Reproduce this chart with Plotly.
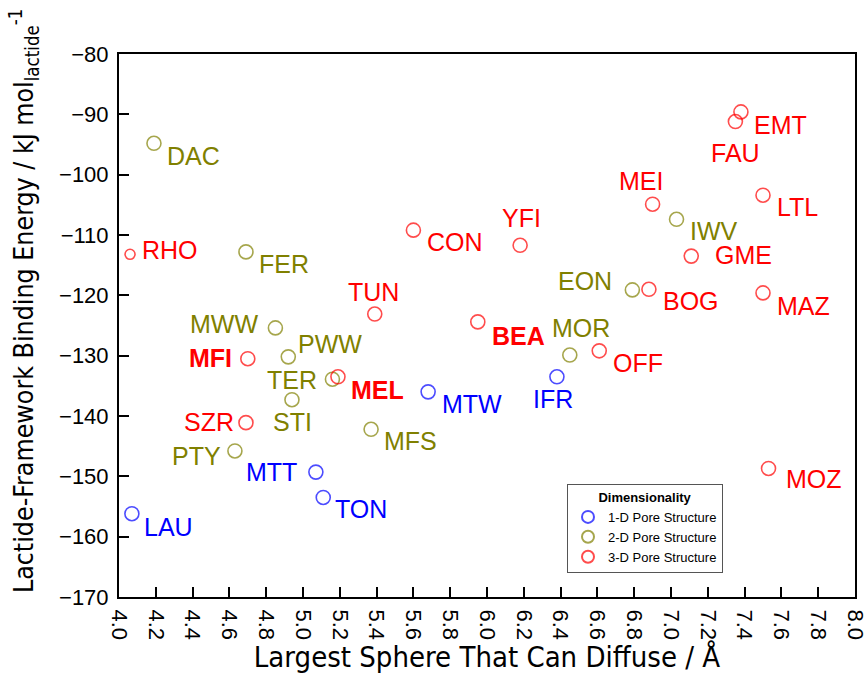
import plotly.graph_objects as go

# ---------------- data ----------------
names_1d = ["LAU", "MTT", "TON", "MTW", "IFR"]
x_1d = [4.07, 5.07, 5.11, 5.68, 6.38]
y_1d = [-156.2, -149.3, -153.5, -136.0, -133.5]

names_2d = ["DAC", "FER", "MWW", "PWW", "TER", "STI", "PTY", "MFS", "MOR", "EON", "IWV"]
x_2d = [4.19, 4.69, 4.85, 4.92, 5.16, 4.94, 4.63, 5.37, 6.45, 6.79, 7.03]
y_2d = [-94.8, -112.8, -125.4, -130.2, -133.9, -137.3, -145.8, -142.2, -129.9, -119.1, -107.4]

names_3d = ["RHO", "MFI", "MEL", "SZR", "TUN", "CON", "YFI", "BEA", "OFF", "BOG",
            "MEI", "GME", "FAU", "EMT", "LTL", "MAZ", "MOZ"]
x_3d = [4.06, 4.70, 5.19, 4.69, 5.39, 5.60, 6.18, 5.95, 6.61, 6.88,
        6.90, 7.11, 7.35, 7.38, 7.50, 7.50, 7.53]
y_3d = [-113.2, -130.5, -133.5, -141.1, -123.1, -109.2, -111.7, -124.4, -129.2, -119.0,
        -104.9, -113.5, -91.2, -89.6, -103.4, -119.6, -148.7]

x_ticks = [4.0, 4.2, 4.4, 4.6, 4.8, 5.0, 5.2, 5.4, 5.6, 5.8, 6.0,
           6.2, 6.4, 6.6, 6.8, 7.0, 7.2, 7.4, 7.6, 7.8, 8.0]
x_tick_labels = [f"{v:.1f}" for v in x_ticks]
y_ticks = [-170, -160, -150, -140, -130, -120, -110, -100, -90, -80]

bold_names = ["MFI", "MEL", "BEA"]
small_marker_names = ["RHO"]

series = [
    ("1-D Pore Structure", names_1d, x_1d, y_1d, "#0000ff"),
    ("2-D Pore Structure", names_2d, x_2d, y_2d, "#808000"),
    ("3-D Pore Structure", names_3d, x_3d, y_3d, "#ff0000"),
]

x_title = "Largest Sphere That Can Diffuse / Å"
y_title = "Lactide-Framework Binding Energy / kJ mol<sub>lactide</sub><sup>-1</sup>"

# label placement (anchor, dx px, dy px downward)
label_pos = {
    "LAU": ("left", 10, 13), "MTT": ("right", -17, 0), "TON": ("left", 10, 12),
    "MTW": ("left", 12, 12), "IFR": ("center", -4, 22),
    "DAC": ("left", 11, 13), "FER": ("left", 11, 12), "MWW": ("right", -15, -4),
    "PWW": ("left", 8, -13), "TER": ("right", -13, 1), "STI": ("center", 1, 22),
    "PTY": ("right", -12, 5), "MFS": ("left", 11, 12), "MOR": ("left", -20, -27),
    "EON": ("right", -18, -9), "IWV": ("left", 11, 12),
    "RHO": ("left", 10, -4), "MFI": ("right", -14, -1), "MEL": ("left", 11, 13),
    "SZR": ("right", -10, -1), "TUN": ("center", -1, -22), "CON": ("left", 12, 12),
    "YFI": ("center", 1, -27), "BEA": ("left", 12, 14), "OFF": ("left", 12, 12),
    "BOG": ("left", 12, 12), "MEI": ("center", -12, -23), "GME": ("left", 22, -1),
    "FAU": ("center", 0, 31), "EMT": ("left", 11, 13), "LTL": ("left", 12, 12),
    "MAZ": ("left", 12, 13), "MOZ": ("left", 15, 11),
}

LABEL_FONT = "Liberation Sans, Arial, sans-serif"
TITLE_FONT = "Liberation Sans Narrow, Arial Narrow, DejaVu Sans Condensed, Liberation Sans, sans-serif"

fig = go.Figure()
annotations = []
for leg_name, names, xs, ys, color in series:
    sizes = [10 if n in small_marker_names else 14 for n in names]
    fig.add_trace(go.Scatter(
        x=xs, y=ys, mode="markers", name=leg_name, text=names,
        marker=dict(symbol="circle-open", size=sizes, color=color,
                    line=dict(width=1.6, color=color)),
        hovertemplate="%{text}: (%{x}, %{y})<extra></extra>",
    ))
    for n, xv, yv in zip(names, xs, ys):
        anchor, dx, dy = label_pos[n]
        txt = f"<b>{n}</b>" if n in bold_names else n
        annotations.append(dict(
            x=xv, y=yv, xref="x", yref="y", text=txt, showarrow=False,
            xanchor=anchor, yanchor="middle", xshift=dx, yshift=-dy,
            font=dict(family=LABEL_FONT, size=25, color=color),
        ))

# y-axis title drawn as rotated annotation so it can sit exactly where the reference has it
annotations.append(dict(
    x=-0.129, y=0.545, xref="paper", yref="paper", text=y_title, showarrow=False,
    textangle=-90, xanchor="center", yanchor="middle",
    font=dict(family=TITLE_FONT, size=26.5, color="black"),
))

axis_common = dict(
    showline=True, linecolor="black", linewidth=2, mirror=True,
    ticks="inside", ticklen=10, tickwidth=1.5, tickcolor="black",
    showgrid=False, zeroline=False, automargin=False,
    ticklabeloverflow="allow",
    tickfont=dict(family=LABEL_FONT, size=22, color="black"),
)

fig.update_layout(
    width=867, height=676,
    margin=dict(l=119, r=12, t=54, b=79),
    paper_bgcolor="white", plot_bgcolor="white",
    annotations=annotations,
    showlegend=True,
    legend=dict(
        x=0.6087, y=0.208, xanchor="left", yanchor="top",
        bgcolor="white", bordercolor="#555555", borderwidth=1,
        font=dict(family=LABEL_FONT, size=13, color="black"),
        title=dict(text="<b>Dimensionality</b>", side="top center",
                   font=dict(family=LABEL_FONT, size=13, color="black")),
        itemsizing="constant", tracegroupgap=0,
    ),
)
fig.update_xaxes(
    range=[4.0, 8.0], tickmode="array", tickvals=x_ticks, ticktext=x_tick_labels,
    tickangle=90, ticklabelstandoff=6,
    title=dict(text=x_title,
               font=dict(family=TITLE_FONT, size=29, color="black"), standoff=6),
    **axis_common,
)
fig.update_yaxes(
    range=[-170, -80], tickmode="array", tickvals=y_ticks,
    ticklabelstandoff=4,
    **axis_common,
)

fig.write_html("out.html")
